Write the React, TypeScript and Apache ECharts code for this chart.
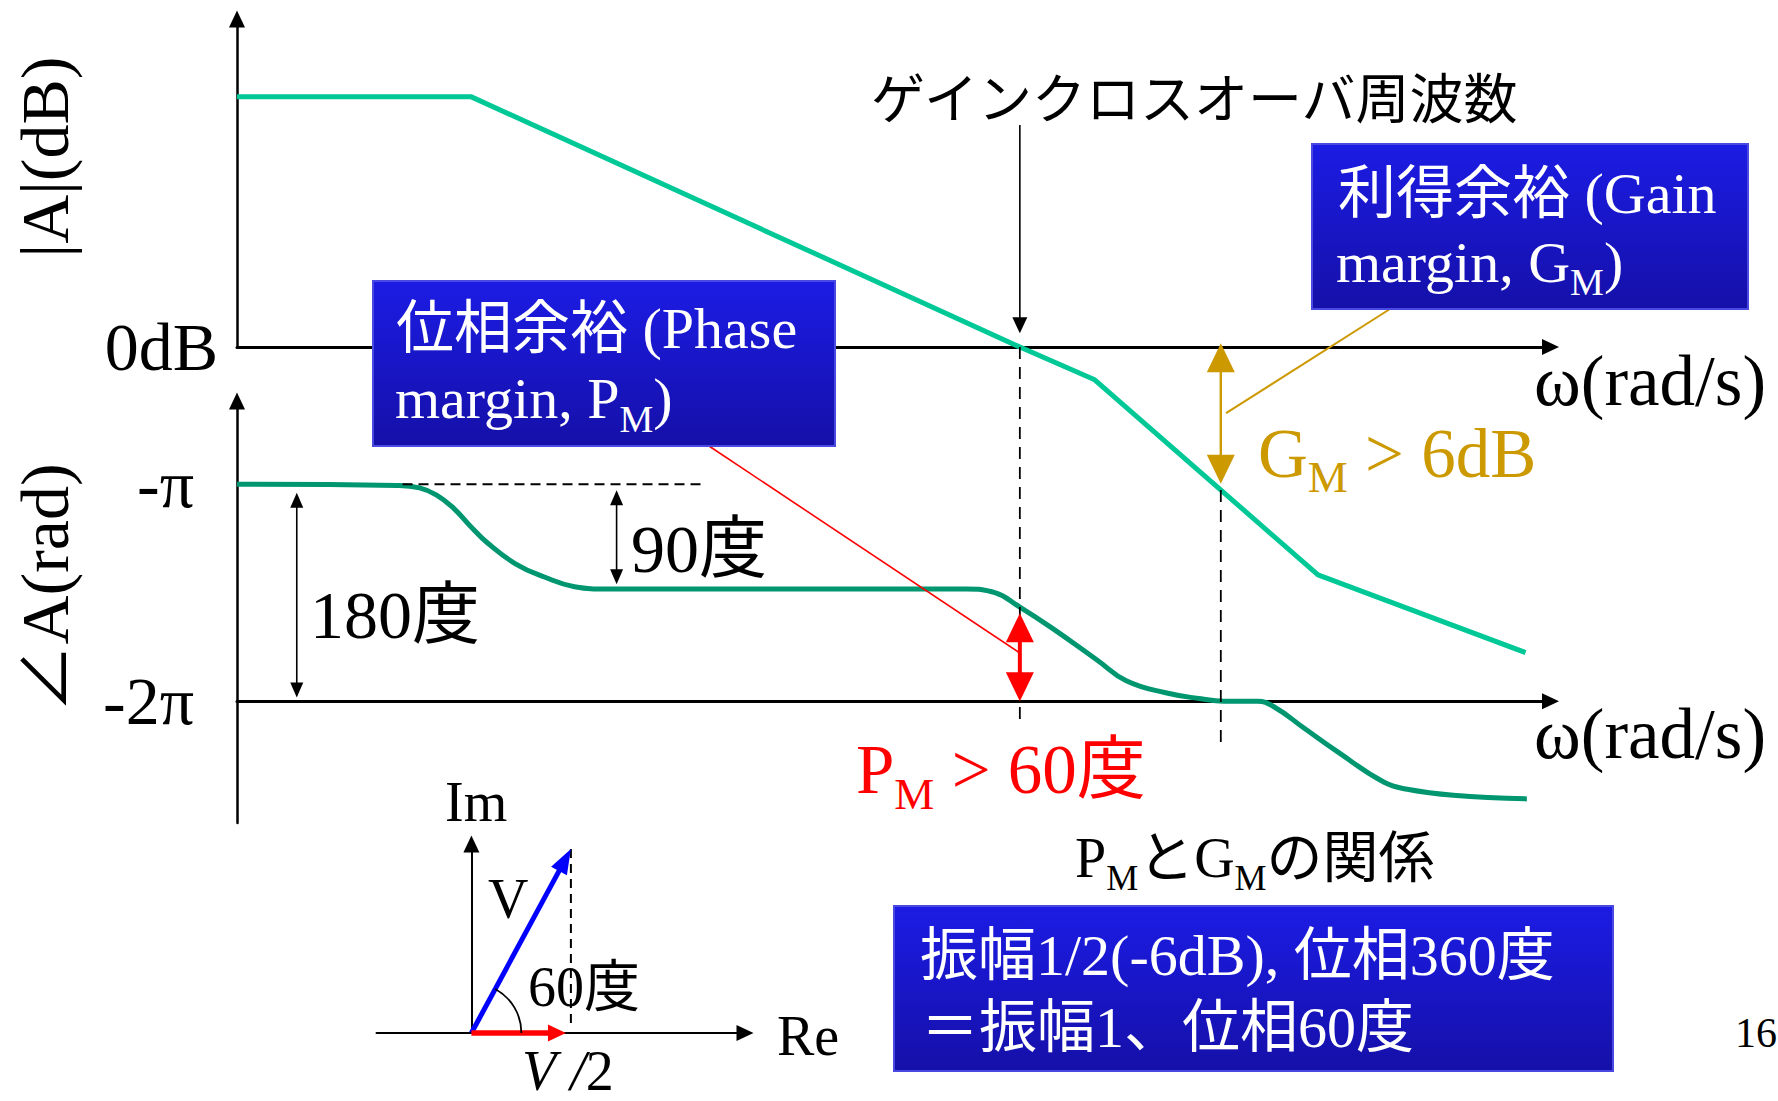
import React, { useEffect, useRef } from "react";
import * as echarts from "echarts";

// ---------------- data ----------------
// Gain |A| in dB versus a log-frequency coordinate (0..100)
const gainOmega = [0, 17.8, 59.6, 65.3, 82.3, 98.1];
const gainDb = [45.8, 45.8, 0, -6, -41.7, -55.9];

// Phase ∠A in degrees versus the same frequency coordinate
const phaseOmega = [0, 12.2, 13.9, 15.2, 16.5, 17.7, 19.1, 21.2, 23.4, 25.7, 28.2, 55.5, 57.7, 59.6, 62.0, 65.5, 67.7, 70.7, 73.4, 75.1, 77.7, 79.0, 81.2, 83.8, 87.3, 89.1, 92.6, 98.2];
const phaseDeg = [-180, -181, -183, -189, -200, -214, -229, -246, -257, -265, -267, -267, -270, -282, -299, -326, -343, -353, -358, -360, -360, -365, -382, -402, -427, -433, -438, -441];

// Tick labels
const gainTickDb = [0];
const gainTickText = ["0dB"];
const phaseTickDeg = [-180, -360];
const phaseTickText = ["-π", "-2π"];
const PHASE_ORIGIN_DEG = -360; // the lower ω axis sits at -2π

// Annotation anchors (data units)
const crossoverOmega = 59.6; // gain crossover frequency
const phaseCrossOmega = 74.9; // phase = -360°
const crossArrowDb = [40.6, 2.5];
const crossDashPhaseEnd = -381;
const gmDashDbTop = -26.2;
const gmDashPhaseEnd = -396;
const gmArrowDb = [0.7, -25];
const gmLeaderEnd = [75.3, -12.1];
const pmArrowDeg = [-287, -360];
const pmLeaderEndDeg = -320;
const refDashOmega = [12.6, 35.4];
const refDashDeg = -180;
const arrow90Omega = 28.9;
const arrow90Deg = [-185, -263];
const arrow180Omega = 4.55;
const arrow180Deg = [-187, -357];

// Phasor diagram
const vecVMag = 1;
const vecVAngleDeg = 60;
const vecHalfRe = 0.475;

const FAMILY = '"Liberation Serif", "Noto Sans CJK JP"';

let measureCtx: CanvasRenderingContext2D | null = null;
function measure(t: string, font: string): number {
  if (!measureCtx) measureCtx = document.createElement("canvas").getContext("2d");
  measureCtx!.font = font;
  return measureCtx!.measureText(t).width;
}

type Part = { t: string; size: number; dy?: number; italic?: boolean };

function textRun(x0: number, baseline: number, parts: Part[], color: string, z = 40) {
  let x = x0;
  const out: any[] = [];
  for (const p of parts) {
    const font = `${p.italic ? "italic " : ""}${p.size}px ${FAMILY}`;
    let t = p.t;
    const lead = t.length - t.replace(/^\s+/, "").length;
    if (lead > 0) {
      x += measure(t.slice(0, lead), font);
      t = t.slice(lead);
    }
    out.push({
      type: "text",
      z,
      x,
      y: baseline + (p.dy || 0) - 0.3375 * p.size,
      style: {
        text: t,
        font,
        fill: color,
        align: "left",
        verticalAlign: "middle",
        textAlign: "left",
        textVerticalAlign: "middle",
      },
    });
    x += measure(t, font);
  }
  return out;
}

function arrow(
  p1: number[],
  p2: number[],
  o: { color: string; width: number; headLen: number; headW: number; both?: boolean; z?: number }
) {
  const z = o.z ?? 30;
  const dx = p2[0] - p1[0];
  const dy = p2[1] - p1[1];
  const L = Math.hypot(dx, dy) || 1;
  const ux = dx / L;
  const uy = dy / L;
  const nx = -uy;
  const ny = ux;
  const head = (tip: number[], dxu: number, dyu: number) => ({
    type: "polygon",
    z,
    shape: {
      points: [
        [tip[0], tip[1]],
        [tip[0] - dxu * o.headLen + (nx * o.headW) / 2, tip[1] - dyu * o.headLen + (ny * o.headW) / 2],
        [tip[0] - dxu * o.headLen - (nx * o.headW) / 2, tip[1] - dyu * o.headLen - (ny * o.headW) / 2],
      ],
    },
    style: { fill: o.color },
  });
  const s = o.both ? [p1[0] + ux * o.headLen * 0.8, p1[1] + uy * o.headLen * 0.8] : p1;
  const e = [p2[0] - ux * o.headLen * 0.8, p2[1] - uy * o.headLen * 0.8];
  const els: any[] = [
    { type: "line", z, shape: { x1: s[0], y1: s[1], x2: e[0], y2: e[1] }, style: { stroke: o.color, lineWidth: o.width } },
    head(p2, ux, uy),
  ];
  if (o.both) els.push(head(p1, -ux, -uy));
  return els;
}

function dashed(p1: number[], p2: number[], dash: number[], width = 1.8, color = "#000", z = 25) {
  return {
    type: "line",
    z,
    shape: { x1: p1[0], y1: p1[1], x2: p2[0], y2: p2[1] },
    style: { stroke: color, lineWidth: width, lineDash: dash },
  };
}

function box(x: number, y: number, w: number, h: number) {
  return {
    type: "rect",
    z: 35,
    shape: { x, y, width: w, height: h },
    style: {
      fill: new echarts.graphic.LinearGradient(0, 0, 0, 1, [
        { offset: 0, color: "#1c1ce4" },
        { offset: 1, color: "#1510a8" },
      ]),
      stroke: "#4a4ae2",
      lineWidth: 2,
    },
  };
}

const hiddenAxisParts = {
  axisTick: { show: false },
  splitLine: { show: false },
};

export default function App() {
  const ref = useRef<HTMLDivElement>(null);

  useEffect(() => {
    const chart = echarts.init(ref.current!, null, { renderer: "svg" });

    const phaseTickShifted = phaseTickDeg.map((d) => d - PHASE_ORIGIN_DEG);

    chart.setOption({
      animation: false,
      backgroundColor: "#ffffff",
      grid: [
        { left: 237, top: 19, width: 1313.5, height: 328 },
        { left: 237, top: 401, width: 1313.5, height: 422 },
        { left: 376.5, top: 844, width: 368.5, height: 189 },
      ],
      xAxis: [
        {
          gridIndex: 0,
          type: "value",
          min: 0,
          max: 100,
          axisLine: { show: true, onZero: true, symbol: ["none", "triangle"], symbolSize: [16, 17], lineStyle: { color: "#000", width: 3 } },
          axisLabel: { show: false },
          ...hiddenAxisParts,
        },
        {
          gridIndex: 1,
          type: "value",
          min: 0,
          max: 100,
          axisLine: { show: true, onZero: true, symbol: ["none", "triangle"], symbolSize: [16, 17], lineStyle: { color: "#000", width: 3 } },
          axisLabel: { show: false },
          ...hiddenAxisParts,
        },
        {
          gridIndex: 2,
          type: "value",
          min: -0.477,
          max: 1.375,
          axisLine: { show: true, onZero: true, symbol: ["none", "triangle"], symbolSize: [16, 17], lineStyle: { color: "#000", width: 2 } },
          axisLabel: { show: false },
          ...hiddenAxisParts,
        },
      ],
      yAxis: [
        {
          gridIndex: 0,
          type: "value",
          min: 0,
          max: 60,
          interval: 60,
          axisLine: { show: true, onZero: true, symbol: ["none", "triangle"], symbolSize: [16, 17], lineStyle: { color: "#000", width: 2.5 } },
          axisLabel: {
            show: true,
            margin: 19,
            fontSize: 68,
            fontFamily: FAMILY,
            color: "#000",
            formatter: (v: number) => {
              const i = gainTickDb.indexOf(v);
              return i >= 0 ? gainTickText[i] : "";
            },
          },
          ...hiddenAxisParts,
        },
        {
          gridIndex: 1,
          type: "value",
          min: -101,
          max: 249,
          axisLine: { show: true, onZero: true, symbol: ["none", "triangle"], symbolSize: [16, 17], lineStyle: { color: "#000", width: 2.5 } },
          axisLabel: {
            show: true,
            margin: 43,
            fontSize: 68,
            fontFamily: FAMILY,
            color: "#000",
            customValues: phaseTickShifted,
            formatter: (v: number) => {
              const i = phaseTickShifted.indexOf(v);
              return i >= 0 ? phaseTickText[i] : "";
            },
          },
          ...hiddenAxisParts,
        },
        {
          gridIndex: 2,
          type: "value",
          min: 0,
          max: 0.89,
          axisLine: { show: true, onZero: true, symbol: ["none", "triangle"], symbolSize: [16, 17], lineStyle: { color: "#000", width: 2 } },
          axisLabel: { show: false },
          ...hiddenAxisParts,
        },
      ],
      series: [
        {
          name: "|A|",
          type: "line",
          xAxisIndex: 0,
          yAxisIndex: 0,
          data: gainOmega.map((w, i) => [w, gainDb[i]]),
          symbol: "none",
          clip: false,
          lineStyle: { color: "#00C896", width: 5, join: "round" },
          z: 3,
        },
        {
          name: "∠A",
          type: "line",
          xAxisIndex: 1,
          yAxisIndex: 1,
          data: phaseOmega.map((w, i) => [w, phaseDeg[i] - PHASE_ORIGIN_DEG]),
          symbol: "none",
          smooth: 0.45,
          clip: false,
          lineStyle: { color: "#009670", width: 5 },
          z: 3,
        },
      ],
    });

    const P0 = (w: number, db: number) => chart.convertToPixel({ gridIndex: 0 }, [w, db]) as number[];
    const P1 = (w: number, deg: number) => chart.convertToPixel({ gridIndex: 1 }, [w, deg - PHASE_ORIGIN_DEG]) as number[];
    const P2 = (re: number, im: number) => chart.convertToPixel({ gridIndex: 2 }, [re, im]) as number[];

    const gainAtPhaseCross = (() => {
      for (let i = 0; i < gainOmega.length - 1; i++) {
        if (phaseCrossOmega >= gainOmega[i] && phaseCrossOmega <= gainOmega[i + 1]) {
          const f = (phaseCrossOmega - gainOmega[i]) / (gainOmega[i + 1] - gainOmega[i]);
          return gainDb[i] + f * (gainDb[i + 1] - gainDb[i]);
        }
      }
      return gmDashDbTop;
    })();

    const GOLD = "#CC9900";
    const RED = "#FF0000";
    const els: any[] = [];

    // crossover frequency label + arrow + dashed line
    els.push(...textRun(871, 119, [{ t: "ゲインクロスオーバ周波数", size: 54 }], "#000"));
    els.push(...arrow(P0(crossoverOmega, crossArrowDb[0]), P0(crossoverOmega, crossArrowDb[1]), { color: "#000", width: 1.6, headLen: 16, headW: 15 }));
    els.push(dashed(P0(crossoverOmega, 0), P1(crossoverOmega, crossDashPhaseEnd), [12, 8]));

    // gain margin
    els.push(dashed(P0(phaseCrossOmega, gainAtPhaseCross), P1(phaseCrossOmega, gmDashPhaseEnd), [12, 8]));
    els.push(...arrow(P0(phaseCrossOmega, gmArrowDb[0]), P0(phaseCrossOmega, gmArrowDb[1]), { color: GOLD, width: 2.4, headLen: 29, headW: 28, both: true }));

    // phase margin
    els.push(...arrow(P1(crossoverOmega, pmArrowDeg[0]), P1(crossoverOmega, pmArrowDeg[1]), { color: RED, width: 4, headLen: 29, headW: 28, both: true, z: 32 }));

    // -π reference and 90° / 180° arrows
    els.push(dashed(P1(refDashOmega[0], refDashDeg), P1(refDashOmega[1], refDashDeg), [10, 6], 2));
    els.push(...arrow(P1(arrow90Omega, arrow90Deg[0]), P1(arrow90Omega, arrow90Deg[1]), { color: "#000", width: 1.6, headLen: 15, headW: 13, both: true }));
    els.push(...arrow(P1(arrow180Omega, arrow180Deg[0]), P1(arrow180Omega, arrow180Deg[1]), { color: "#000", width: 1.6, headLen: 15, headW: 13, both: true }));
    els.push(...textRun(631, 572, [{ t: "90度", size: 68 }], "#000"));
    els.push(...textRun(310, 638, [{ t: "180度", size: 68 }], "#000"));

    // leaders
    const pmEnd = P1(crossoverOmega, pmLeaderEndDeg);
    els.push({ type: "line", z: 31, shape: { x1: 706, y1: 444, x2: pmEnd[0], y2: pmEnd[1] }, style: { stroke: RED, lineWidth: 1.6 } });
    const gmEnd = P0(gmLeaderEnd[0], gmLeaderEnd[1]);
    els.push({ type: "line", z: 31, shape: { x1: 1390, y1: 309, x2: gmEnd[0], y2: gmEnd[1] }, style: { stroke: GOLD, lineWidth: 2 } });

    // margin labels
    els.push(...textRun(1258, 477, [{ t: "G", size: 69 }, { t: "M", size: 45, dy: 15 }, { t: " > 6dB", size: 69 }], GOLD));
    els.push(...textRun(856, 793, [{ t: "P", size: 69 }, { t: "M", size: 45, dy: 16 }, { t: " > 60度", size: 69 }], RED));

    // axis titles
    els.push(...textRun(1534, 405, [{ t: "ω(rad/s)", size: 71 }], "#000"));
    els.push(...textRun(1534, 758, [{ t: "ω(rad/s)", size: 71 }], "#000"));
    els.push({ type: "text", z: 40, x: 45, y: 157, rotation: Math.PI / 2, style: { text: "|A|(dB)", font: `68px ${FAMILY}`, fill: "#000", align: "center", verticalAlign: "middle", textAlign: "center", textVerticalAlign: "middle" } });
    els.push({ type: "text", z: 40, x: 45, y: 588, rotation: Math.PI / 2, style: { text: "∠A(rad)", font: `68px ${FAMILY}`, fill: "#000", align: "center", verticalAlign: "middle", textAlign: "center", textVerticalAlign: "middle" } });

    // callout boxes
    els.push(box(373, 281, 462, 165));
    els.push(...textRun(396, 348, [{ t: "位相余裕 (Phase", size: 58 }], "#fff", 41));
    els.push(...textRun(395, 418, [{ t: "margin, P", size: 58 }, { t: "M", size: 38, dy: 14 }, { t: ")", size: 58 }], "#fff", 41));
    els.push(box(1312, 144, 436, 165));
    els.push(...textRun(1338, 213, [{ t: "利得余裕 (Gain", size: 58 }], "#fff", 41));
    els.push(...textRun(1336, 282, [{ t: "margin, G", size: 58 }, { t: "M", size: 38, dy: 13 }, { t: ")", size: 58 }], "#fff", 41));
    els.push(box(894, 906, 719, 165));
    els.push(...textRun(920, 975, [{ t: "振幅1/2(-6dB), 位相360度", size: 58 }], "#fff", 41));
    els.push(...textRun(921, 1047, [{ t: "＝振幅1、位相60度", size: 58 }], "#fff", 41));
    els.push(...textRun(1075, 877, [{ t: "P", size: 56 }, { t: "M", size: 36, dy: 13 }, { t: "と", size: 56 }, { t: "G", size: 56 }, { t: "M", size: 36, dy: 13 }, { t: "の関係", size: 56 }], "#000"));

    // phasor diagram
    const rad = (vecVAngleDeg * Math.PI) / 180;
    const vRe = vecVMag * Math.cos(rad);
    const vIm = vecVMag * Math.sin(rad);
    const O = P2(0, 0);
    const Vt = P2(vRe, vIm);
    els.push(dashed(Vt, P2(vRe, 0.03), [9, 6], 2));
    els.push(...arrow(O, Vt, { color: "#0000FF", width: 5, headLen: 25, headW: 18 }));
    els.push(...arrow(O, P2(vecHalfRe, 0), { color: RED, width: 5.5, headLen: 18, headW: 17 }));
    const pixAng = Math.atan2(Vt[1] - O[1], Vt[0] - O[0]);
    els.push({ type: "arc", z: 30, shape: { cx: O[0], cy: O[1], r: 50, startAngle: pixAng, endAngle: 0, clockwise: true }, style: { stroke: "#000", lineWidth: 1.8, fill: "none" } });
    els.push(...textRun(445, 821, [{ t: "Im", size: 56 }], "#000"));
    els.push(...textRun(488, 918, [{ t: "V", size: 56 }], "#000"));
    els.push(...textRun(528, 1006, [{ t: "60度", size: 56 }], "#000"));
    els.push(...textRun(777, 1055, [{ t: "Re", size: 56 }], "#000"));
    els.push(...textRun(522, 1090, [{ t: "V", size: 56, italic: true }, { t: " /", size: 56, italic: true }, { t: "2", size: 56 }], "#000"));

    // page number
    els.push(...textRun(1735, 1047, [{ t: "16", size: 42 }], "#000"));

    chart.setOption({ graphic: { elements: els } });

    return () => chart.dispose();
  }, []);

  return (
    <div
      ref={ref}
      style={{ position: "fixed", left: 0, top: 0, width: 1778, height: 1101, background: "#fff" }}
    />
  );
}
